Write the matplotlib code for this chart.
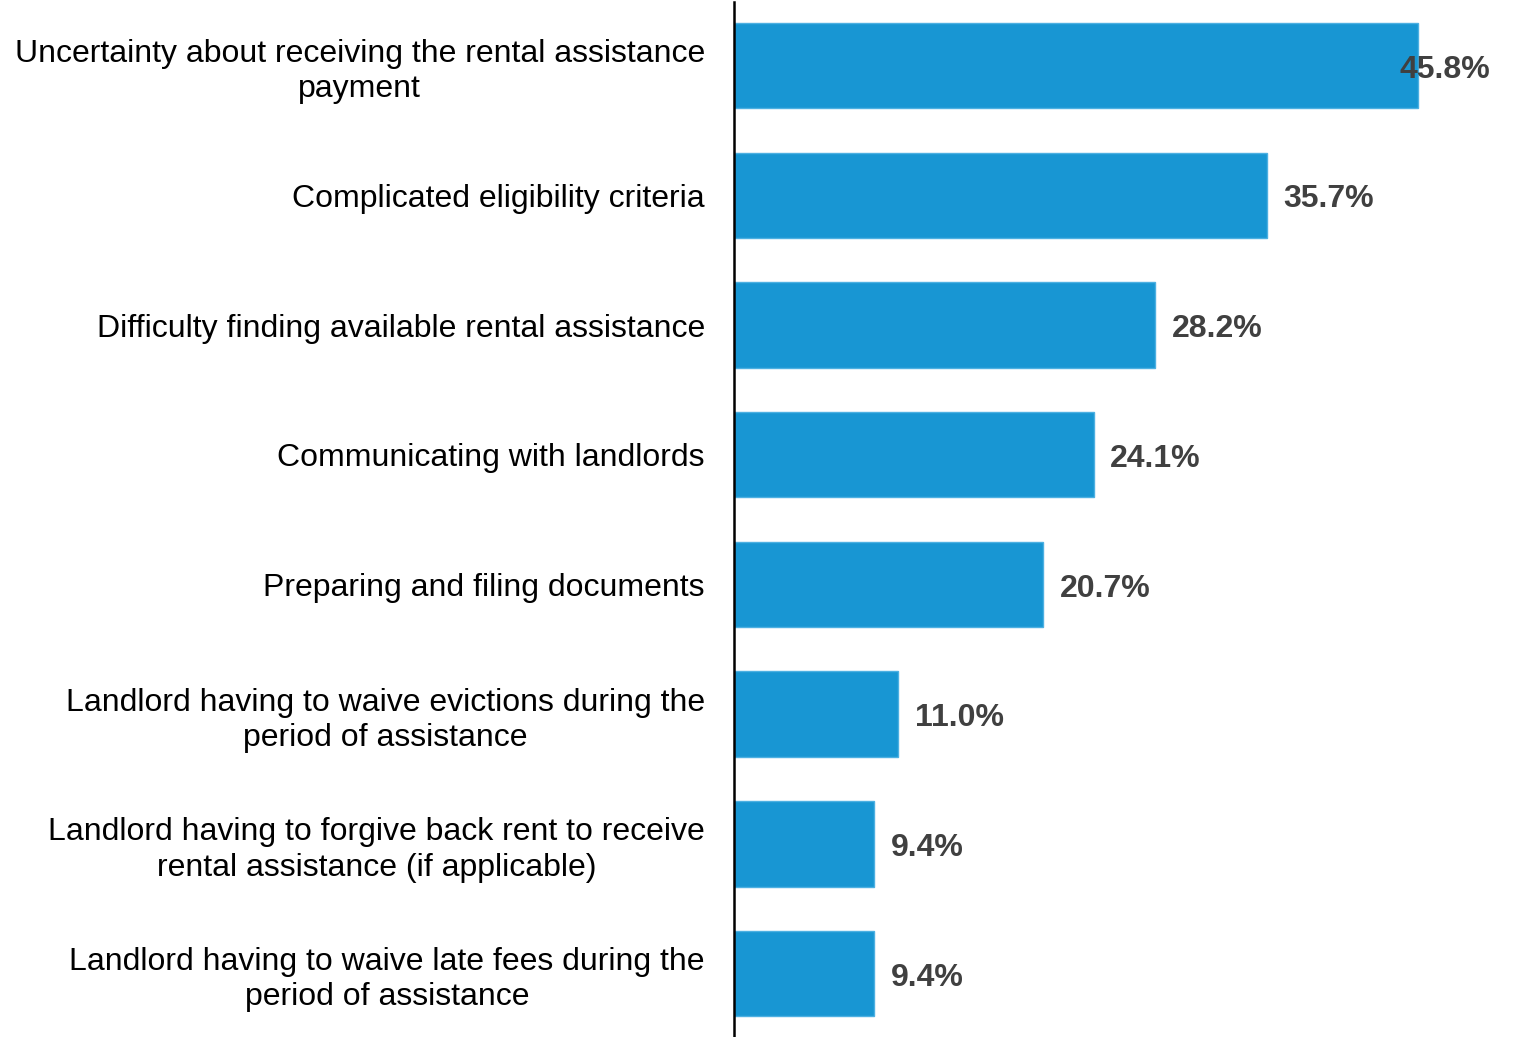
import matplotlib
matplotlib.use("Agg")
import matplotlib.pyplot as plt

plt.rcParams['font.family'] = ['Liberation Sans', 'DejaVu Sans']

categories = [
    "Uncertainty about receiving the rental assistance\npayment",
    "Complicated eligibility criteria",
    "Difficulty finding available rental assistance",
    "Communicating with landlords",
    "Preparing and filing documents",
    "Landlord having to waive evictions during the\nperiod of assistance",
    "Landlord having to forgive back rent to receive\nrental assistance (if applicable)",
    "Landlord having to waive late fees during the\nperiod of assistance",
]
values = [45.8, 35.7, 28.2, 24.1, 20.7, 11.0, 9.4, 9.4]
value_labels = ["45.8%", "35.7%", "28.2%", "24.1%", "20.7%", "11.0%", "9.4%", "9.4%"]

bar_color = "#1896D3"
edge_color = "#4DB0E2"
label_color = "#404040"

fig = plt.figure(figsize=(15.16, 10.37), dpi=100)
ax = fig.add_axes([0.4842, 0.0, 0.5158, 0.998])

y = list(range(len(categories)))
ax.barh(y, values, height=0.66, color=bar_color, edgecolor=edge_color, linewidth=1.0)

ax.set_xlim(0, 52.4)
ax.set_ylim(len(categories) - 0.51, -0.49)

ax.set_yticks(y)
ax.set_yticklabels(categories, fontsize=23, color="black", multialignment="center",
                   linespacing=1.23)
ax.tick_params(axis='y', length=0, pad=21)
ax.set_xticks([])

for s in ["top", "right", "bottom"]:
    ax.spines[s].set_visible(False)
ax.spines["left"].set_linewidth(1.8)
ax.spines["left"].set_color("black")

vmax = max(values)
for yi, v, lab in zip(y, values, value_labels):
    # widest bar: keep its label inside the figure, overlapping the bar end
    dx = -13 if v == vmax else 12
    ax.annotate(lab, xy=(v, yi), xytext=(dx, -3), textcoords="offset points",
                ha="left", va="center", fontsize=23, fontweight="bold",
                color=label_color)

fig.savefig("out.png", dpi=100)
